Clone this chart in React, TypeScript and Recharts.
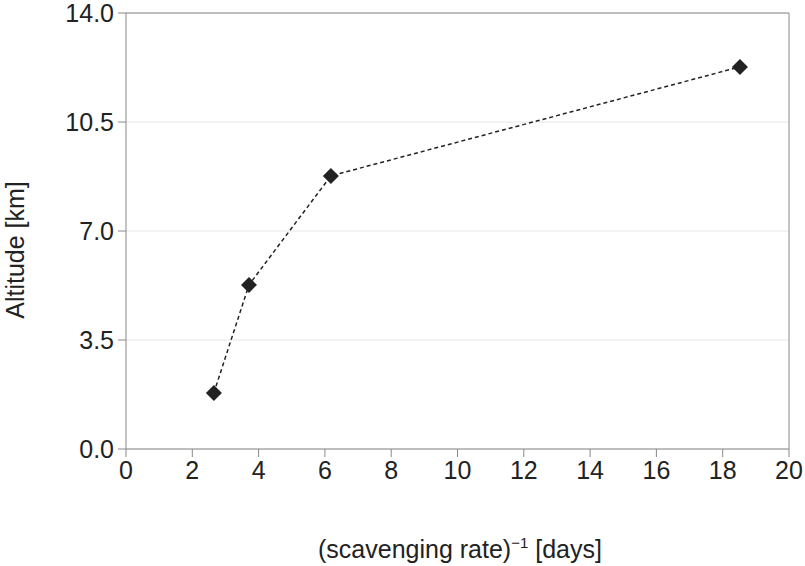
import React from 'react';
import { ScatterChart, Scatter, XAxis, YAxis, CartesianGrid, ReferenceLine, Label } from 'recharts';

const xValues = [2.65, 3.71, 6.18, 18.52];
const altitudes = [1.8, 5.27, 8.77, 12.27];
const xTicks = [0, 2, 4, 6, 8, 10, 12, 14, 16, 18, 20];
const yTicks = [0, 3.5, 7, 10.5, 14];

const data = xValues.map((x, i) => ({ x, y: altitudes[i] }));
const font = 'Liberation Sans, Arial, sans-serif';

const Diamond = (p: any) => {
  const cx = p.cx, cy = p.cy, r = 8;
  return <polygon points={`${cx},${cy - r} ${cx + r},${cy} ${cx},${cy + r} ${cx - r},${cy}`} fill="#222" />;
};

export default function App() {
  return (
    <div style={{ position: 'absolute', left: 0, top: 0 }}>
      <ScatterChart width={805} height={566} margin={{ top: 13, right: 16, bottom: 0, left: 0 }}>
        <CartesianGrid horizontal vertical={false} stroke="#e6e6e6" />
        <XAxis type="number" dataKey="x" domain={[0, 20]} ticks={xTicks} interval={0}
          stroke="#888" tickSize={8} tick={{ fill: '#222', fontSize: 25, fontFamily: font }} tickMargin={4} height={117}>
          <Label content={() => (
            <text x={460} y={558} textAnchor="middle" fontSize={25} fontFamily={font} fill="#222">
              (scavenging rate)<tspan dy={-10} fontSize={15}>−1</tspan><tspan dy={10}> [days]</tspan>
            </text>
          )} />
        </XAxis>
        <YAxis type="number" dataKey="y" domain={[0, 14]} ticks={yTicks} interval={0}
          tickFormatter={(v: number) => v.toFixed(1)}
          stroke="#888" tickSize={8} tick={{ fill: '#222', fontSize: 25, fontFamily: font }} tickMargin={4} width={126}>
          <Label content={() => (
            <text x={24} y={250} transform="rotate(-90 24 250)" textAnchor="middle" fontSize={25} fontFamily={font} fill="#222">Altitude [km]</text>
          )} />
        </YAxis>
        <ReferenceLine y={14} stroke="#888" />
        <ReferenceLine x={20} stroke="#888" />
        <Scatter data={data} fill="#222" shape={Diamond} legendType="none"
          line={{ stroke: '#222', strokeWidth: 1.5, strokeDasharray: '4 3' }} isAnimationActive={false} />
      </ScatterChart>
    </div>
  );
}
